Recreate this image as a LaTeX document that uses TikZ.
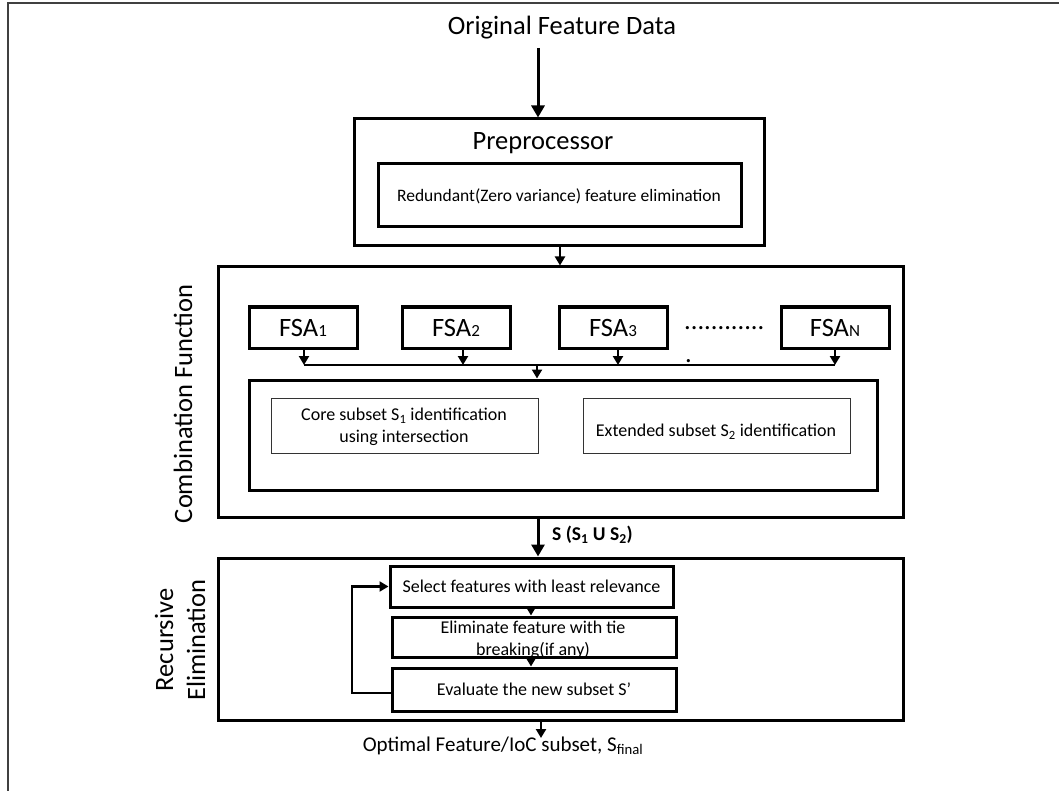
\documentclass[tikz,border=0pt]{standalone}
\usepackage{fontspec}
\setmainfont{Carlito}
\usetikzlibrary{arrows.meta}
\begin{document}
\begin{tikzpicture}[x=1pt,y=-1pt,
  thickbox/.style={draw,line width=3pt,rectangle,inner sep=0pt},
  thinbox/.style={draw=black!80,line width=1pt,rectangle,inner sep=0pt},
  bigtxt/.style={font=\fontsize{26.5}{32}\selectfont},
  midtxt/.style={font=\fontsize{18}{22}\selectfont},
  arr/.style={line width=2.6pt,-{Triangle[length=9pt,width=10pt]}},
  bigarr/.style={line width=3pt,-{Triangle[length=12pt,width=13pt]}},
  busline/.style={line width=2.6pt}]
\useasboundingbox (0,0) rectangle (1059,791);
% outer frame
\draw[line width=2pt,black!75] (8,791) -- (8,3) -- (1059,3);
% title
\node[bigtxt] (orig) at (562,28) {Original Feature Data};
% preprocessor
\node[thickbox,minimum width=410pt,minimum height=127pt] (pre) at (559,182.5) {};
\node[bigtxt] (pretitle) at (543,143) {Preprocessor};
\node[thickbox,minimum width=363pt,minimum height=63pt] (red) at (559.5,195.5) {};
\node[font=\fontsize{17.5}{21}\selectfont] (redtxt) at (559,196) {Redundant(Zero variance) feature elimination};
\coordinate (origbot) at (538,48);
\draw[bigarr] (origbot) -- (origbot |- pre.north);
% combination box
\node[thickbox,minimum width=685pt,minimum height=250pt] (comb) at (560.5,392) {};
\node[bigtxt,rotate=90] (combtxt) at (183,404) {Combination Function};
\coordinate (prearr) at (560,246);
\draw[arr] (pre.south -| prearr) -- (prearr |- comb.north);
% FSA boxes
\node[thickbox,minimum width=108pt,minimum height=41pt,bigtxt] (f1) at (303,327.5) {FSA{\fontsize{17}{17}\selectfont 1}};
\node[thickbox,minimum width=108pt,minimum height=41pt,bigtxt] (f2) at (456,327.5) {FSA{\fontsize{17}{17}\selectfont 2}};
\node[thickbox,minimum width=108pt,minimum height=41pt,bigtxt] (f3) at (613,327.5) {FSA{\fontsize{17}{17}\selectfont 3}};
\node[thickbox,minimum width=108pt,minimum height=41pt,bigtxt] (fn) at (835,327.5) {FSA{\fontsize{17}{17}\selectfont N}};
\node[bigtxt,anchor=base west,inner sep=0pt] (dots) at (684,329) {............};
\node[bigtxt,anchor=base west,inner sep=0pt] (dot) at (685,362) {.};
% bus
\coordinate (b1) at (304,365);
\coordinate (b2) at (463,365);
\coordinate (b3) at (618,365);
\coordinate (bn) at (835,365);
\coordinate (bc) at (537,365);
\draw[arr] (f1.south -| b1) -- (b1);
\draw[arr] (f2.south -| b2) -- (b2);
\draw[arr] (f3.south -| b3) -- (b3);
\draw[arr] (fn.south -| bn) -- (bn);
\draw[busline] (b1) -- (bn);
% inner combination box
\node[thickbox,minimum width=628pt,minimum height=110pt] (inner) at (563,435) {};
\draw[arr] (bc) -- (bc |- inner.north);
\node[thinbox,minimum width=267pt,minimum height=55pt] (core) at (404.5,425.5) {};
\node[midtxt,align=center] (coretxt) at (404,427) {Core subset S\textsubscript{1} identification\\using intersection};
\node[thinbox,minimum width=267pt,minimum height=55pt] (ext) at (716.5,425.5) {};
\node[midtxt] (exttxt) at (716,432) {Extended subset S\textsubscript{2} identification};
% recursive elimination
\node[thickbox,minimum width=685pt,minimum height=162pt] (rec) at (560.5,639) {};
\node[bigtxt,rotate=90,align=center] (rectxt) at (180,640) {Recursive\\Elimination};
\coordinate (sarr) at (538,517);
\draw[bigarr] (comb.south -| sarr) -- (sarr |- rec.north);
\node[font=\bfseries\fontsize{19.5}{23}\selectfont,anchor=west,inner sep=0pt] (slab) at (552,535) {S (S\textsubscript{1} U S\textsubscript{2})};
\node[thickbox,minimum width=283pt,minimum height=41pt,midtxt] (sel) at (531.5,586.5) {Select features with least relevance};
\node[thickbox,minimum width=284pt,minimum height=40pt] (elim) at (534,637) {};
\node[midtxt,align=center] (elimtxt) at (533,640) {Eliminate feature with tie\\breaking(if any)};
\node[thickbox,minimum width=284pt,minimum height=43pt,midtxt] (eval) at (534,689.5) {Evaluate the new subset S’};
\coordinate (a1) at (531,600);
\draw[arr] (sel.south -| a1) -- (a1 |- elim.north);
\draw[arr] (elim.south -| a1) -- (a1 |- eval.north);
\coordinate (loopx) at (352,693);
\draw[line width=2.6pt,-{Triangle[length=9pt,width=10pt]}] (eval.west |- loopx) -- (loopx) -- (loopx |- sel.west) -- (sel.west);
% output
\coordinate (outa) at (541,738);
\draw[arr] (outa |- rec.south) -- (outa);
\node[font=\fontsize{21}{25}\selectfont] (out) at (503,746) {Optimal Feature/IoC subset, S\textsubscript{final}};
\end{tikzpicture}
\end{document}
